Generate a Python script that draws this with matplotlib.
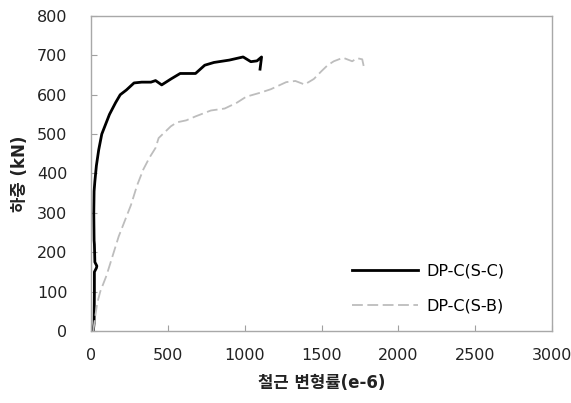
import matplotlib
matplotlib.use("Agg")
import matplotlib.pyplot as plt

plt.rcParams["font.family"] = ["DejaVu Sans", "Noto Sans CJK KR"]
plt.rcParams["axes.unicode_minus"] = False

# 하중-철근 변형률 곡선 (변형률 단위 e-6, 하중 kN)
strain_sc = [15, 20, 22, 22, 35, 38, 25, 22, 20, 18, 20, 25, 35, 50, 70, 90, 120,
             160, 190, 230, 280, 330, 390, 420, 460, 520, 580, 680, 740, 800, 900,
             990, 1040, 1080, 1110, 1100]
load_sc = [0, 20, 100, 150, 160, 165, 175, 220, 230, 300, 355, 380, 420, 460, 500,
           520, 550, 580, 600, 612, 630, 632, 632, 636, 625, 640, 654, 654, 675,
           682, 688, 696, 684, 686, 696, 665]

strain_sb = [15, 25, 40, 60, 100, 140, 180, 220, 260, 300, 340, 380, 420, 440, 480,
             520, 560, 620, 680, 780, 870, 950, 1010, 1100, 1170, 1270, 1330, 1390,
             1450, 1500, 1540, 1580, 1640, 1700, 1730, 1765, 1775]
load_sb = [0, 30, 70, 100, 140, 190, 240, 280, 320, 370, 410, 440, 465, 490, 505,
           520, 530, 535, 545, 560, 565, 580, 595, 605, 614, 632, 635, 626, 640,
           660, 675, 685, 694, 685, 693, 690, 672]

labels = ["DP-C(S-C)", "DP-C(S-B)"]
x_ticks = [0, 500, 1000, 1500, 2000, 2500, 3000]
y_ticks = [0, 100, 200, 300, 400, 500, 600, 700, 800]

fig = plt.figure(figsize=(5.71, 4.03), dpi=100)
ax = fig.add_axes([0.1594, 0.1787, 0.8073, 0.7816])

ax.plot(strain_sc, load_sc, color="black", lw=2.0, label=labels[0])
ax.plot(strain_sb, load_sb, color="#bdbdbd", lw=1.3, dashes=(6, 2.5), label=labels[1])

ax.set_xlim(0, 3000)
ax.set_ylim(0, 800)
ax.set_xticks(x_ticks)
ax.set_yticks(y_ticks)
ax.tick_params(direction="in", length=4, color="#a0a0a0", labelsize=11.5,
               labelcolor="#222222")
ax.tick_params(axis="y", pad=17)
ax.tick_params(axis="x", pad=12)
for s in ax.spines.values():
    s.set_color("#a8a8a8")
    s.set_linewidth(1.0)

ax.set_xlabel("철근 변형률(e-6)", fontsize=12, fontweight="bold", labelpad=8,
              color="#222222")
ax.set_ylabel("하중 (kN)", fontsize=12, fontweight="bold", labelpad=6,
              color="#222222")

# 범례: 테두리 없이 그래프 오른쪽 아래
leg = ax.legend(loc="lower right", frameon=False, fontsize=11.5,
                handlelength=4.1, handletextpad=0.55, labelspacing=1.25)
leg.set_bbox_to_anchor((427 / 571 + 0.161, (403 - 328) / 403),
                       transform=fig.transFigure)

fig.savefig("out.png", dpi=100)
